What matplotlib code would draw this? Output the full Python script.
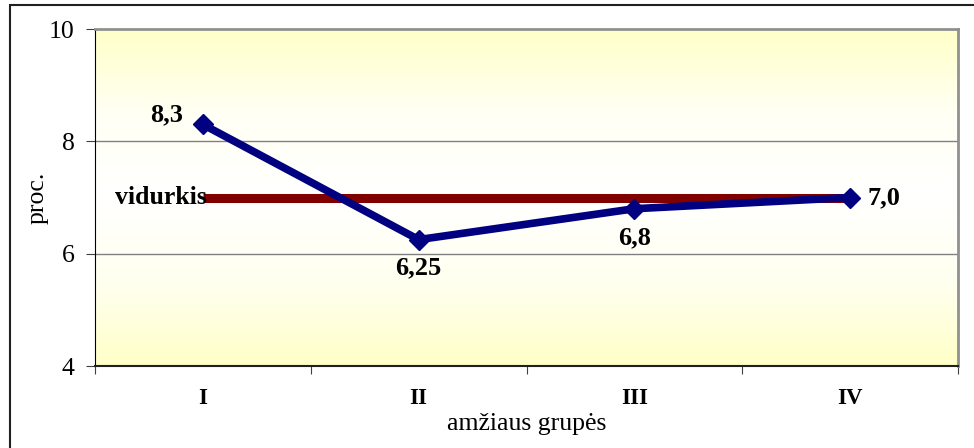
import matplotlib.pyplot as plt
import numpy as np
from matplotlib.colors import LinearSegmentedColormap
from matplotlib.patches import Rectangle

# amziaus grupes ir reiksmes
grupes = ['I', 'II', 'III', 'IV']
reiksmes = [8.3, 6.25, 6.8, 7.0]
etiketes = ['8,3', '6,25', '6,8', '7,0']
vidurkis = 7.0

plt.rcParams['font.family'] = ['Liberation Serif', 'DejaVu Serif']

fig = plt.figure(figsize=(9.74, 4.48), dpi=100)
ax = fig.add_axes([95/974, 1-366/448, 863/974, 337/448])

# fonas - geltonas gradientas
cmap = LinearSegmentedColormap.from_list('fonas', ['#ffffc8', '#fffff4', '#ffffff', '#fffff0', '#ffffc8'])
grad = np.linspace(0, 1, 256).reshape(-1, 1)
ax.imshow(grad, cmap=cmap, aspect='auto', extent=[-0.5, 3.5, 4, 10],
          origin='upper', zorder=0)

x = np.arange(len(grupes))
ax.set_xlim(-0.5, 3.5)
ax.set_ylim(4, 10)

for y in [6, 8]:
    ax.axhline(y, color='#808080', lw=1, zorder=1)

ax.plot([x[0], x[-1]], [vidurkis, vidurkis], color='#800000', lw=6.5,
        solid_capstyle='butt', zorder=2)
ax.plot(x, reiksmes, color='#000080', lw=5.5, marker='D', ms=10, zorder=3)

bold = dict(fontsize=19, fontweight='bold')
ax.text(x[0] + 0.02, vidurkis, 'vidurkis', ha='right', va='center',
        fontsize=18.5, fontweight='bold', zorder=4)
ax.text(x[0] - 0.17, 8.47, etiketes[0], ha='center', va='center', **bold)
ax.text(x[1], 5.75, etiketes[1], ha='center', va='center', **bold)
ax.text(x[2], 6.28, etiketes[2], ha='center', va='center', **bold)
ax.text(x[3] + 0.08, reiksmes[3], etiketes[3], ha='left', va='center', **bold)

ax.set_yticks([4, 6, 8, 10])
ax.set_yticklabels(['4', '6', '8', '10'], fontsize=18.5)
ax.set_xticks(np.arange(-0.5, 4, 1))
ax.set_xticklabels([])
ax.set_xticks(x, minor=True)
ax.set_xticklabels(grupes, minor=True, fontsize=16.5, fontweight='bold')
ax.tick_params(axis='x', which='minor', length=0, pad=16)
ax.tick_params(axis='x', which='major', length=6, color='#404040')
ax.tick_params(axis='y', length=6.5, color='#404040', pad=8)

ax.set_xlabel('amžiaus grupės', fontsize=18.5, va='center')
ax.xaxis.set_label_coords(0.5, -0.172)
ax.set_ylabel('proc.', fontsize=18.5, va='center')
ax.yaxis.set_label_coords(-0.066, 0.5)

ax.spines['left'].set_color('#000000')
ax.spines['bottom'].set_color('#202020')
ax.spines['bottom'].set_linewidth(1.5)
ax.spines['top'].set_color('#909090')
ax.spines['top'].set_linewidth(2)
ax.spines['right'].set_color('#909090')
ax.spines['right'].set_linewidth(2)

# isorinis remelis
fig.patches.append(Rectangle((10/974, -0.1), 1.1, 1 - 5/448 + 0.1,
                             transform=fig.transFigure, fill=False,
                             edgecolor='#202020', lw=1.5))

fig.savefig('out.png', dpi=100)
